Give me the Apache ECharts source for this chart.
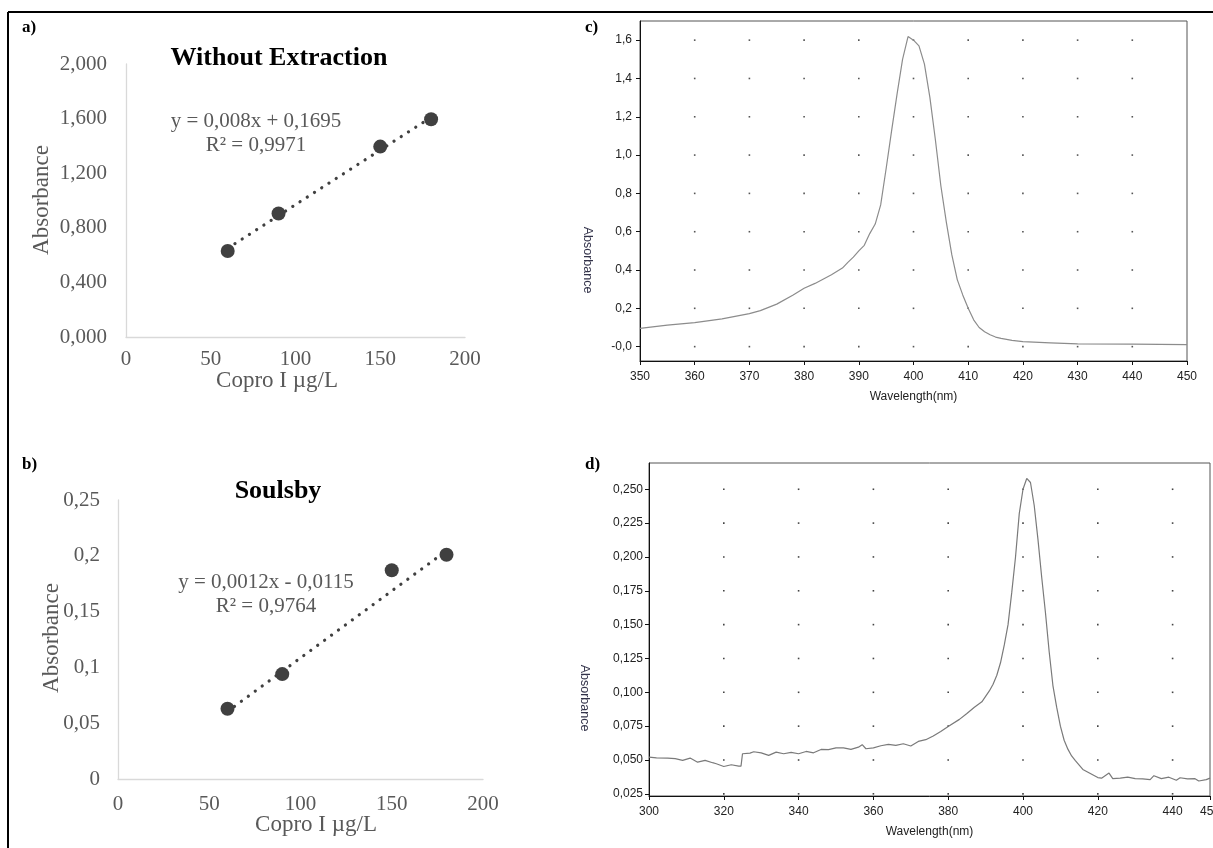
<!DOCTYPE html>
<html>
<head>
<meta charset="utf-8">
<title>Copro I calibration and spectra</title>
<script src="https://cdn.jsdelivr.net/npm/echarts@6.0.0/dist/echarts.min.js"></script>
<style>
  html, body { margin: 0; padding: 0; background: #fff; }
  #chart { width: 1213px; height: 848px; }
</style>
</head>
<body>
<div id="chart"></div>
<script>
// ---- a) calibration without extraction ----
const aConc = [60, 90, 150, 180];
const aAbs = [0.63, 0.905, 1.395, 1.595];
const aSlope = 0.008, aIntercept = 0.1695;
const aEquation = 'y = 0,008x + 0,1695';
const aR2 = 'R² = 0,9971';
const aYTicks = [0, 0.4, 0.8, 1.2, 1.6, 2.0];
const aYLabels = ['0,000', '0,400', '0,800', '1,200', '1,600', '2,000'];

// ---- b) calibration, Soulsby ----
const bConc = [60, 90, 150, 180];
const bAbs = [0.063, 0.094, 0.187, 0.201];
const bSlope = 0.0012, bIntercept = -0.0115;
const bEquation = 'y = 0,0012x - 0,0115';
const bR2 = 'R² = 0,9764';
const bYTicks = [0, 0.05, 0.1, 0.15, 0.2, 0.25];
const bYLabels = ['0', '0,05', '0,1', '0,15', '0,2', '0,25'];

const concTicks = [0, 50, 100, 150, 200];

// ---- c) spectrum without extraction ----
const cWave = [350, 355, 360, 365, 370, 372, 375, 378, 380, 382, 385, 387, 388, 389, 390, 391, 392, 393, 394, 395,
  396, 397, 398, 399, 400, 401, 402, 403, 404, 405, 406, 407, 408, 409, 410, 411, 412, 413, 414, 415,
  416, 418, 420, 425, 430, 440, 450];
const cAbs = [0.095, 0.112, 0.125, 0.145, 0.172, 0.188, 0.222, 0.27, 0.305, 0.33, 0.375, 0.41, 0.44, 0.467, 0.50, 0.529, 0.59, 0.64, 0.74, 0.93,
  1.128, 1.32, 1.50, 1.619, 1.60, 1.57, 1.475, 1.30, 1.08, 0.84, 0.65, 0.48, 0.35, 0.27, 0.20, 0.14, 0.10, 0.078, 0.062, 0.05,
  0.043, 0.033, 0.026, 0.02, 0.014, 0.013, 0.01];
const cXTicks = [350, 360, 370, 380, 390, 400, 410, 420, 430, 440, 450];
const cYTicks = [0, 0.2, 0.4, 0.6, 0.8, 1.0, 1.2, 1.4, 1.6];
const cYLabels = ['-0,0', '0,2', '0,4', '0,6', '0,8', '1,0', '1,2', '1,4', '1,6'];
const cDotX = [360, 370, 380, 390, 400, 410, 420, 430, 440];

// ---- d) spectrum, Soulsby ----
const dWave = [300, 302, 305, 307, 309, 311, 313, 315, 317, 318, 320, 322, 324, 324.6, 325, 327, 328, 330, 332, 334,
  336, 338, 340, 342, 344, 346, 348, 350, 352, 354, 356, 357, 358, 360, 362, 364, 366, 368, 370, 372,
  374, 376, 378, 380, 383, 385, 387, 389, 390, 391, 392, 393, 394, 395, 396, 397, 398, 399, 400, 401,
  402, 403, 404, 405, 406, 407, 408, 409, 410, 411, 412, 413, 414, 416, 418, 420, 421, 423, 424, 426,
  428, 430, 432, 434, 435, 437, 439, 441, 442, 444, 446, 447, 449, 450];
const dAbs = [0.0521, 0.0516, 0.0514, 0.051, 0.0497, 0.0514, 0.0484, 0.0497, 0.048, 0.0472, 0.0452, 0.0465, 0.0455, 0.0455, 0.0546, 0.0551, 0.0561, 0.0553, 0.0534, 0.0558,
  0.0546, 0.0556, 0.0546, 0.0563, 0.0553, 0.0578, 0.0576, 0.059, 0.059, 0.0578, 0.0595, 0.0613, 0.0583, 0.059, 0.0605, 0.0615, 0.0608, 0.062, 0.0603, 0.0637,
  0.065, 0.0677, 0.0711, 0.0748, 0.080, 0.0844, 0.089, 0.093, 0.097, 0.101, 0.106, 0.1126, 0.122, 0.135, 0.15, 0.174, 0.20, 0.232, 0.25, 0.258,
  0.255, 0.238, 0.213, 0.185, 0.159, 0.13, 0.105, 0.089, 0.075, 0.0646, 0.058, 0.053, 0.0495, 0.043, 0.040, 0.037, 0.0366, 0.0403, 0.0362, 0.0366,
  0.0373, 0.0362, 0.036, 0.0355, 0.0384, 0.0362, 0.0373, 0.035, 0.0369, 0.036, 0.0362, 0.0345, 0.0355, 0.0366];
const dXTicks = [300, 320, 340, 360, 380, 400, 420, 440, 450];
const dYTicks = [0.025, 0.05, 0.075, 0.1, 0.125, 0.15, 0.175, 0.2, 0.225, 0.25];
const dYLabels = ['0,025', '0,050', '0,075', '0,100', '0,125', '0,150', '0,175', '0,200', '0,225', '0,250'];
const dDotX = [320, 340, 360, 380, 400, 420, 440];

// ---- helpers ----
const SERIF = "'Liberation Serif', 'Times New Roman', serif";
const SANS = "'Liberation Sans', Arial, sans-serif";
const EXCEL_GREY = '#595959';

function labelFor(ticks, labels) {
  return function (v) {
    for (let i = 0; i < ticks.length; i++) {
      if (Math.abs(ticks[i] - v) < 1e-9) return labels[i];
    }
    return '';
  };
}
function pairs(xs, ys) { return xs.map((x, i) => [x, ys[i]]); }
function gridDots(xs, ys) {
  const out = [];
  xs.forEach(x => ys.forEach(y => out.push([x, y])));
  return out;
}
function trend(xs, slope, intercept) {
  const lo = Math.min.apply(null, xs), hi = Math.max.apply(null, xs);
  return [[lo, slope * lo + intercept], [hi, slope * hi + intercept]];
}

const excelValueAxis = (extra) => Object.assign({
  type: 'value',
  axisLine: { show: true, lineStyle: { color: '#d9d9d9', width: 1.3 } },
  axisTick: { show: false },
  splitLine: { show: false },
  axisLabel: { color: EXCEL_GREY, fontFamily: SERIF, fontSize: 21 }
}, extra);

const specAxis = (extra) => Object.assign({
  type: 'value',
  axisLine: { show: true, onZero: false, lineStyle: { color: '#111', width: 1 } },
  axisTick: { show: true, inside: false, length: 4, lineStyle: { color: '#111' } },
  splitLine: { show: false },
  axisLabel: { color: '#222', fontFamily: SANS, fontSize: 12 }
}, extra);

const chart = echarts.init(document.getElementById('chart'), null, { renderer: 'canvas' });

const trendStyle = { color: '#404040', width: 3.2, type: [0.1, 8.5], cap: 'round' };
const pointStyle = { color: '#404040', opacity: 1 };

const option = {
  backgroundColor: '#fff',
  animation: false,
  grid: [
    { left: 126, top: 64, width: 339, height: 273, outerBoundsMode: 'none' },
    { left: 118, top: 500, width: 365, height: 279, outerBoundsMode: 'none' },
    { left: 640, top: 21, width: 547, height: 340, outerBoundsMode: 'none', show: true, borderColor: '#555', borderWidth: 1, backgroundColor: 'transparent' },
    { left: 649, top: 463, width: 561, height: 333, outerBoundsMode: 'none', show: true, borderColor: '#555', borderWidth: 1, backgroundColor: 'transparent' }
  ],
  xAxis: [
    excelValueAxis({ gridIndex: 0, min: 0, max: 200, interval: 50,
      axisLabel: { color: EXCEL_GREY, fontFamily: SERIF, fontSize: 21, margin: 12 } }),
    excelValueAxis({ gridIndex: 1, min: 0, max: 200, interval: 50,
      axisLabel: { color: EXCEL_GREY, fontFamily: SERIF, fontSize: 21, margin: 15 } }),
    specAxis({ gridIndex: 2, min: 350, max: 450,
      axisTick: { show: true, length: 4, customValues: cXTicks, lineStyle: { color: '#111' } },
      axisLabel: { color: '#222', fontFamily: SANS, fontSize: 12, margin: 10, customValues: cXTicks },
      name: 'Wavelength(nm)', nameLocation: 'middle', nameGap: 30,
      nameTextStyle: { color: '#222', fontFamily: SANS, fontSize: 12 } }),
    specAxis({ gridIndex: 3, min: 300, max: 450,
      axisTick: { show: true, length: 4, customValues: dXTicks, lineStyle: { color: '#111' } },
      axisLabel: { color: '#222', fontFamily: SANS, fontSize: 12, margin: 10, customValues: dXTicks },
      name: 'Wavelength(nm)', nameLocation: 'middle', nameGap: 30,
      nameTextStyle: { color: '#222', fontFamily: SANS, fontSize: 12 } })
  ],
  yAxis: [
    excelValueAxis({ gridIndex: 0, min: 0, max: 2, interval: 0.4,
      axisLabel: { color: EXCEL_GREY, fontFamily: SERIF, fontSize: 21, margin: 19, formatter: labelFor(aYTicks, aYLabels) } }),
    excelValueAxis({ gridIndex: 1, min: 0, max: 0.25, interval: 0.05,
      axisLabel: { color: EXCEL_GREY, fontFamily: SERIF, fontSize: 21, margin: 18, formatter: labelFor(bYTicks, bYLabels) } }),
    specAxis({ gridIndex: 2, min: -0.075, max: 1.7,
      axisTick: { show: true, length: 4, customValues: cYTicks, lineStyle: { color: '#111' } },
      axisLabel: { color: '#222', fontFamily: SANS, fontSize: 12, margin: 8, customValues: cYTicks, formatter: labelFor(cYTicks, cYLabels) } }),
    specAxis({ gridIndex: 3, min: 0.0234, max: 0.2694,
      axisTick: { show: true, length: 4, customValues: dYTicks, lineStyle: { color: '#111' } },
      axisLabel: { color: '#222', fontFamily: SANS, fontSize: 12, margin: 6, customValues: dYTicks, formatter: labelFor(dYTicks, dYLabels) } })
  ],
  series: [
    // a) trendline and measured points
    { type: 'line', xAxisIndex: 0, yAxisIndex: 0, data: trend(aConc, aSlope, aIntercept), showSymbol: false, silent: true,
      lineStyle: trendStyle, z: 3 },
    { type: 'scatter', xAxisIndex: 0, yAxisIndex: 0, data: pairs(aConc, aAbs), symbol: 'circle', symbolSize: 14,
      itemStyle: pointStyle, z: 4 },
    // b) trendline and measured points
    { type: 'line', xAxisIndex: 1, yAxisIndex: 1, data: trend(bConc, bSlope, bIntercept), showSymbol: false, silent: true,
      lineStyle: trendStyle, z: 3 },
    { type: 'scatter', xAxisIndex: 1, yAxisIndex: 1, data: pairs(bConc, bAbs), symbol: 'circle', symbolSize: 14,
      itemStyle: pointStyle, z: 4 },
    // c) dotted grid and spectrum
    { type: 'scatter', xAxisIndex: 2, yAxisIndex: 2, data: gridDots(cDotX, cYTicks), symbol: 'rect', symbolSize: 1.6,
      itemStyle: { color: '#555', opacity: 1 }, silent: true, z: 1 },
    { type: 'line', xAxisIndex: 2, yAxisIndex: 2, data: pairs(cWave, cAbs), showSymbol: false, silent: true,
      lineStyle: { color: '#8c8c8c', width: 1.2 }, z: 2 },
    // d) dotted grid and spectrum
    { type: 'scatter', xAxisIndex: 3, yAxisIndex: 3, data: gridDots(dDotX, dYTicks), symbol: 'rect', symbolSize: 1.6,
      itemStyle: { color: '#444', opacity: 1 }, silent: true, z: 1 },
    { type: 'line', xAxisIndex: 3, yAxisIndex: 3, data: pairs(dWave, dAbs), showSymbol: false, silent: true,
      lineStyle: { color: '#7a7a7a', width: 1.2 }, z: 2 }
  ],
  graphic: [
    // outer frame
    { type: 'line', shape: { x1: 8, y1: 12, x2: 1213, y2: 12 }, style: { stroke: '#000', lineWidth: 2 } },
    { type: 'line', shape: { x1: 8, y1: 12, x2: 8, y2: 848 }, style: { stroke: '#000', lineWidth: 2 } },
    // panel letters
    { type: 'text', x: 22, y: 28, style: { text: 'a)', font: 'bold 17px ' + SERIF, fill: '#000', align: 'left', verticalAlign: 'middle' } },
    { type: 'text', x: 22, y: 465, style: { text: 'b)', font: 'bold 17px ' + SERIF, fill: '#000', align: 'left', verticalAlign: 'middle' } },
    { type: 'text', x: 585, y: 28, style: { text: 'c)', font: 'bold 17px ' + SERIF, fill: '#000', align: 'left', verticalAlign: 'middle' } },
    { type: 'text', x: 585, y: 465, style: { text: 'd)', font: 'bold 17px ' + SERIF, fill: '#000', align: 'left', verticalAlign: 'middle' } },
    // a) titles and equation
    { type: 'text', x: 279, y: 58, style: { text: 'Without Extraction', font: 'bold 26px ' + SERIF, fill: '#000', align: 'center', verticalAlign: 'middle' } },
    { type: 'text', x: 256, y: 121, style: { text: aEquation, font: '21px ' + SERIF, fill: EXCEL_GREY, align: 'center', verticalAlign: 'middle' } },
    { type: 'text', x: 256, y: 145, style: { text: aR2, font: '21px ' + SERIF, fill: EXCEL_GREY, align: 'center', verticalAlign: 'middle' } },
    { type: 'text', x: 42, y: 200, rotation: Math.PI / 2, style: { text: 'Absorbance', font: '23px ' + SERIF, fill: EXCEL_GREY, align: 'center', verticalAlign: 'middle' } },
    { type: 'text', x: 277, y: 381, style: { text: 'Copro I µg/L', font: '23px ' + SERIF, fill: EXCEL_GREY, align: 'center', verticalAlign: 'middle' } },
    // b) titles and equation
    { type: 'text', x: 278, y: 491, style: { text: 'Soulsby', font: 'bold 26px ' + SERIF, fill: '#000', align: 'center', verticalAlign: 'middle' } },
    { type: 'text', x: 266, y: 582, style: { text: bEquation, font: '21px ' + SERIF, fill: EXCEL_GREY, align: 'center', verticalAlign: 'middle' } },
    { type: 'text', x: 266, y: 606, style: { text: bR2, font: '21px ' + SERIF, fill: EXCEL_GREY, align: 'center', verticalAlign: 'middle' } },
    { type: 'text', x: 52, y: 638, rotation: Math.PI / 2, style: { text: 'Absorbance', font: '23px ' + SERIF, fill: EXCEL_GREY, align: 'center', verticalAlign: 'middle' } },
    { type: 'text', x: 316, y: 825, style: { text: 'Copro I µg/L', font: '23px ' + SERIF, fill: EXCEL_GREY, align: 'center', verticalAlign: 'middle' } },
    // c) and d) vertical axis titles
    { type: 'text', x: 587, y: 260, rotation: -Math.PI / 2, style: { text: 'Absorbance', font: '12.5px ' + SANS, fill: '#33334a', align: 'center', verticalAlign: 'middle' } },
    { type: 'text', x: 584, y: 698, rotation: -Math.PI / 2, style: { text: 'Absorbance', font: '12.5px ' + SANS, fill: '#33334a', align: 'center', verticalAlign: 'middle' } }
  ]
};

chart.setOption(option);
</script>
</body>
</html>
